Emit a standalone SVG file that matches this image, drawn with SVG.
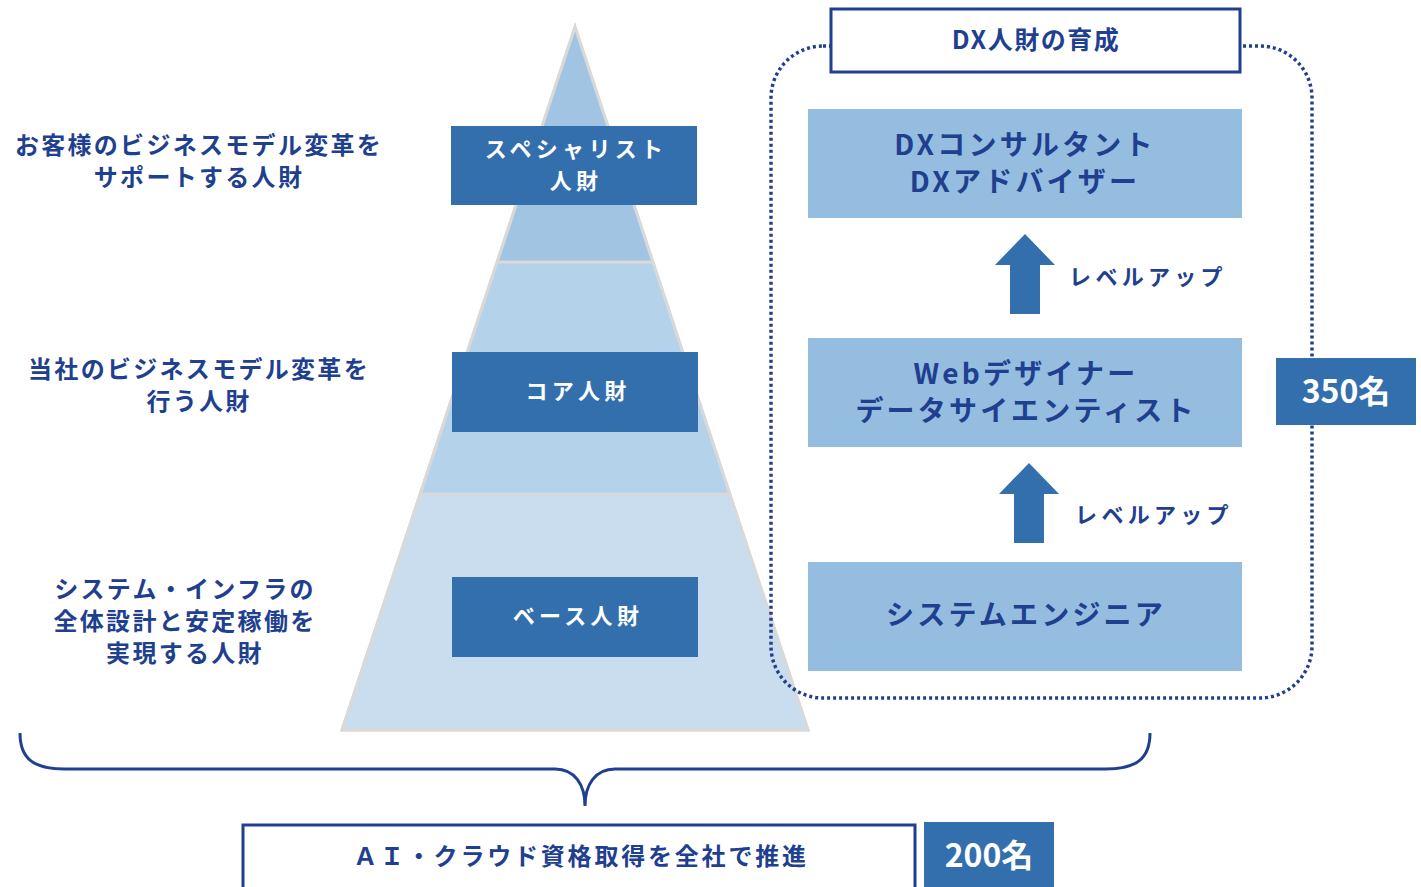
<svg xmlns="http://www.w3.org/2000/svg" width="1421" height="887" viewBox="0 0 1421 887">
<style>
.t{font-family:"Noto Sans CJK JP","Noto Sans",sans-serif;font-weight:bold;text-anchor:middle;dominant-baseline:central}
.navy{fill:#1f3f8f}
.w{fill:#ffffff}
.lbl{font-size:24px;letter-spacing:2.3px}
.pl{font-size:22px;letter-spacing:4.3px}
.lb{font-size:28px;letter-spacing:3.2px}
.dk{fill:#336fac}
.lt{fill:#94bde0}
.num{font-size:32px}
</style>
<rect width="1421" height="887" fill="#ffffff"/>
<g id="pyramid">
<polygon points="575,27 342,730 808,730" fill="#c9ddee" stroke="#d9d9d9" stroke-width="3"/>
<polygon points="575,29 421,494 729,494" fill="#b4d2e9"/>
<polygon points="575,29 498,262 652,262" fill="#a0c4e2"/>
<line x1="421" y1="494" x2="729" y2="494" stroke="#d9d9d9" stroke-width="3"/>
<line x1="498" y1="262" x2="652" y2="262" stroke="#d9d9d9" stroke-width="3"/>
<polygon points="575,27 342,730 808,730" fill="none" stroke="#d9d9d9" stroke-width="3"/>
</g>
<g id="specialist">
<rect x="451" y="126" width="246" height="79" class="dk"/>
<text x="576" y="147" class="t w pl">スペシャリスト</text>
<text x="576" y="179" class="t w pl">人財</text>
</g>
<g id="core">
<rect x="452" y="352" width="246" height="80" class="dk"/>
<text x="578" y="389" class="t w pl">コア人財</text>
</g>
<g id="base">
<rect x="452" y="577" width="246" height="80" class="dk"/>
<text x="578" y="614" class="t w pl">ベース人財</text>
</g>
<g id="desc1">
<text x="199" y="143" class="t navy lbl">お客様のビジネスモデル変革を</text>
<text x="199" y="175" class="t navy lbl">サポートする人財</text>
</g>
<g id="desc2">
<text x="199" y="367" class="t navy lbl">当社のビジネスモデル変革を</text>
<text x="199" y="399" class="t navy lbl">行う人財</text>
</g>
<g id="desc3">
<text x="185" y="587" class="t navy lbl">システム・インフラの</text>
<text x="185" y="619" class="t navy lbl">全体設計と安定稼働を</text>
<text x="185" y="651" class="t navy lbl">実現する人財</text>
</g>
<g id="dx-frame">
<rect x="771" y="46" width="541" height="652" rx="52" ry="52" fill="none" stroke="#1f3f8f" stroke-width="3.5" stroke-dasharray="3 3"/>
</g>
<g id="dx-title">
<rect x="831" y="9" width="409" height="63" fill="#ffffff" stroke="#1f3f8f" stroke-width="3"/>
<text x="1036" y="38" class="t navy" font-size="25" letter-spacing="1.5">DX人財の育成</text>
</g>
<g id="consultant">
<rect x="808" y="109" width="434" height="109" class="lt"/>
<text x="1025" y="143" class="t navy lb">DXコンサルタント</text>
<text x="1025" y="180" class="t navy lb">DXアドバイザー</text>
</g>
<g id="designer">
<rect x="808" y="338" width="434" height="109" class="lt"/>
<text x="1026" y="372" class="t navy lb">Webデザイナー</text>
<text x="1026" y="409" class="t navy lb">データサイエンティスト</text>
</g>
<g id="engineer">
<rect x="808" y="562" width="434" height="109" class="lt"/>
<text x="1026" y="613" class="t navy lb">システムエンジニア</text>
</g>
<g id="connectors">
<polygon points="1025,234 1055,265 1040,265 1040,314 1010,314 1010,265 995,265" class="dk"/>
<polygon points="1029,463 1059,494 1044,494 1044,543 1014,543 1014,494 999,494" class="dk"/>
<text x="1148" y="275" class="t navy pl">レベルアップ</text>
<text x="1154" y="513" class="t navy pl">レベルアップ</text>
<path d="M20,733 C20,760 35,769 65,769 L555,769 C575,769 585,785 585,806 C585,785 595,769 615,769 L1105,769 C1135,769 1150,760 1150,733" fill="none" stroke="#1f3f8f" stroke-width="3"/>
</g>
<g id="count350">
<rect x="1276" y="358" width="140" height="67" class="dk"/>
<text x="1346" y="389" class="t w num">350名</text>
</g>
<g id="cert">
<rect x="243" y="825" width="672" height="64" fill="#ffffff" stroke="#1f3f8f" stroke-width="3"/>
<text x="581" y="854" class="t navy" font-size="24" letter-spacing="2.8">ＡＩ・クラウド資格取得を全社で推進</text>
</g>
<g id="count200">
<rect x="924" y="822" width="130" height="65" class="dk"/>
<text x="989" y="853" class="t w num">200名</text>
</g>
</svg>
